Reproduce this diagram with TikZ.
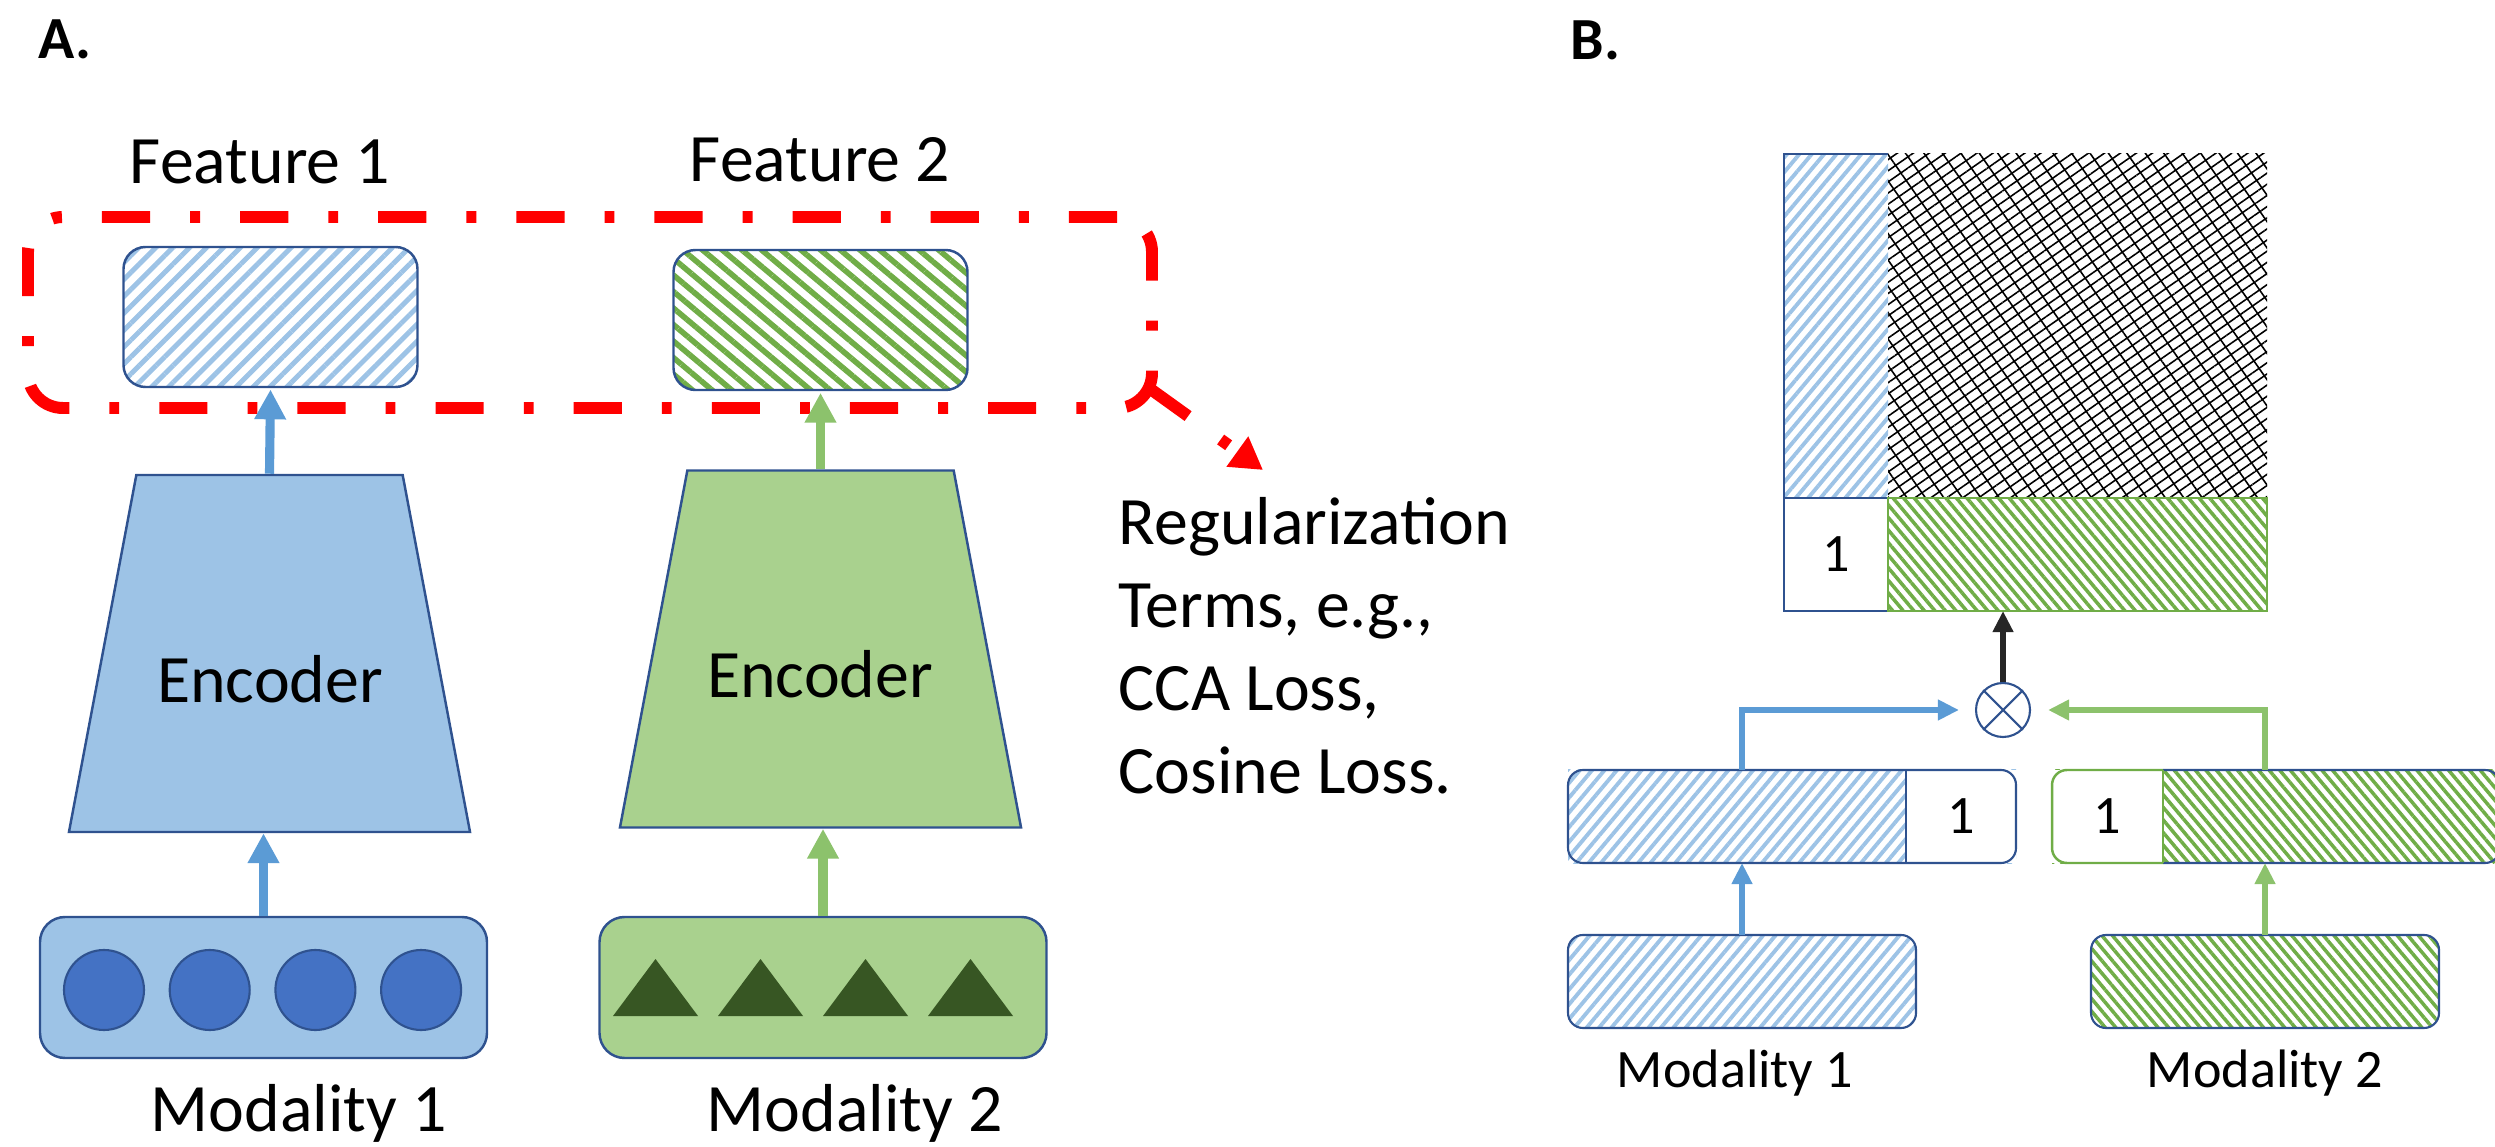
\documentclass[tikz,border=0pt]{standalone}
\usepackage{fontspec}
\setmainfont{Carlito}
\usetikzlibrary{arrows.meta,patterns.meta,shapes.geometric}
\definecolor{dkblue}{HTML}{2F528F}
\definecolor{lblue}{HTML}{9DC3E6}
\definecolor{ablue}{HTML}{5B9BD5}
\definecolor{lgreen}{HTML}{A9D18E}
\definecolor{hgreen}{HTML}{70AD47}
\definecolor{agreen}{HTML}{8CC26C}
\definecolor{dotblue}{HTML}{4472C4}
\definecolor{trigreen}{HTML}{375623}
\definecolor{regred}{HTML}{FF0000}
\definecolor{arrgray}{HTML}{262626}
\begin{document}
\begin{tikzpicture}[x=1cm,y=-1cm,
    testo/.style={font=\fontsize{19.3}{23.6}\selectfont,inner sep=0pt},
    testob/.style={font=\fontsize{15.4}{18}\selectfont,inner sep=0pt},
    pannello/.style={font=\fontsize{17}{20}\selectfont\bfseries,inner sep=0pt,anchor=base west},
    outl/.style={draw=dkblue,line width=0.7pt},
    outlB/.style={draw=dkblue,line width=0.6pt},
    cella/.style={inner sep=0pt,outer sep=0pt},
    feat/.style={outl,rounded corners=0.22cm,minimum width=2.94cm,minimum height=1.40cm,inner sep=0pt},
    modbox/.style={outl,rounded corners=0.25cm,minimum width=4.47cm,minimum height=1.41cm},
    enc/.style={trapezium,outl,trapezium left angle=75.8,trapezium right angle=75.8,
        trapezium stretches=true,minimum width=4.01cm,minimum height=3.57cm,inner sep=2pt},
    regbox/.style={draw=regred,line width=3.4pt,dash pattern=on 13.7pt off 11.4pt on 2.8pt off 11.4pt},
    frecciaA/.style={line width=2.6pt,-{Triangle[length=8.5pt,width=8.5pt]}},
    frecciaB/.style={line width=1.9pt,-{Triangle[length=6pt,width=5.6pt]}},
    bhatchA/.style={pattern={Lines[angle=45,distance=3.4pt,line width=1.4pt]},pattern color=lblue},
    ghatchA/.style={pattern={Lines[angle=-40,distance=3.6pt,line width=1.6pt]},pattern color=hgreen},
    bhatch/.style={pattern={Lines[angle=50,distance=2.7pt,line width=1.1pt]},pattern color=lblue},
    ghatch/.style={pattern={Lines[angle=-50,distance=2.3pt,line width=1pt]},pattern color=hgreen}]
    \useasboundingbox (0,0) rectangle (24.95,11.47);
    \clip (0,0) rectangle (24.95,11.47);
    %etichette pannelli
    \node[pannello] (lblA) at (0.38,0.59) {A.};
    \node[pannello] (lblB) at (15.70,0.60) {B.};
    %caratteristiche
    \node[testo,anchor=base] (tf1) at (2.60,1.84) {Feature 1};
    \node[testo,anchor=base] (tf2) at (8.20,1.82) {Feature 2};
    \node[feat,bhatchA] (feat1) at (2.705,3.17) {};
    \node[feat,ghatchA] (feat2) at (8.205,3.20) {};
    %riquadro regolarizzazione
    \node[regbox,rounded corners=0.35cm,outer sep=0pt,minimum width=11.24cm,minimum height=1.91cm] (reg) at (5.90,3.125) {};
    \coordinate (regtip) at (12.63,4.70);
    \draw[regbox,-{Triangle[length=9pt,width=10pt]}] ([shift={(-0.03,-0.20)}]reg.south east) -- (regtip);
    \node[testo,anchor=north west,align=left] (regtxt) at (11.18,4.97) {Regularization\\Terms, e.g.,\\CCA Loss,\\Cosine Loss.};
    %encoder
    \node[enc,fill=lblue] (enc1) at (2.695,6.535) {};
    \node[enc,fill=lgreen] (enc2) at (8.205,6.49) {};
    \node[testo,anchor=base] (te1) at (2.70,7.02) {Encoder};
    \node[testo,anchor=base] (te2) at (8.20,6.98) {Encoder};
    %modalita
    \node[modbox,fill=lblue] (mod1) at (2.635,9.875) {};
    \node[modbox,fill=lgreen] (mod2) at (8.23,9.875) {};
    \foreach \i in {0,...,3}
        \draw[dkblue,fill=dotblue,line width=0.6pt] (1.04+1.057*\i,9.90) circle (0.40);
    \foreach \i in {0,...,3}
        \fill[trigreen] (6.13+1.05*\i,10.16) --++ (0.85,0) --++ (-0.425,-0.57) -- cycle;
    \node[testo,anchor=base] (tm1) at (2.99,11.31) {Modality 1};
    \node[testo,anchor=base] (tm2) at (8.55,11.31) {Modality 2};
    %frecce A
    \draw[frecciaA,ablue] (enc1.north) -- (feat1.south);
    \draw[frecciaA,agreen] (enc2.north) -- (feat2.south);
    \draw[frecciaA,ablue] (mod1.north) -- (mod1.north |- enc1.south);
    \draw[frecciaA,agreen] (mod2.north) -- (mod2.north |- enc2.south);
    %matrice
    \node[cella,bhatch,minimum width=1.04cm,minimum height=3.44cm] (matblue) at (18.36,3.26) {};
    \draw[outlB] (matblue.south west) -- (matblue.north west) -- (matblue.north east);
    \node[cella,minimum width=3.79cm,minimum height=3.44cm,pattern={Lines[angle=35,distance=2.6pt,line width=0.45pt]}] (matmesh) at (20.775,3.26) {};
    \fill[pattern={Lines[angle=-55,distance=4.3pt,line width=0.45pt]}] (matmesh.south west) rectangle (matmesh.north east);
    \node[cella,outlB,fill=white,testob,minimum width=1.04cm,minimum height=1.13cm] (matone) at (18.36,5.545) {1};
    \node[cella,ghatch,draw=hgreen,line width=0.7pt,minimum width=3.79cm,minimum height=1.13cm] (matgreen) at (20.775,5.545) {};
    %prodotto
    \node[circle,draw=dkblue,line width=0.6pt,minimum size=0.54cm,inner sep=0pt] (prod) at (20.03,7.10) {};
    \draw[dkblue,line width=0.6pt] (prod.north west) -- (prod.south east) (prod.north east) -- (prod.south west);
    \draw[frecciaB,arrgray] (prod.north) -- (prod.north |- matgreen.south);
    %vettori con 1
    \node[cella,bhatch,minimum width=4.48cm,minimum height=0.93cm] (bar1) at (17.92,8.165) {};
    \node[cella,fill=white,testob,minimum width=1.10cm,minimum height=0.93cm] (bar1one) at (19.61,8.165) {1};
    \draw[outlB,rounded corners=0.15cm] (bar1.south west) rectangle (bar1.north east);
    \draw[outlB] (bar1one.north west) -- (bar1one.south west);
    \node[cella,ghatch,minimum width=4.48cm,minimum height=0.93cm] (bar2) at (22.76,8.165) {};
    \node[cella,fill=white,testob,minimum width=1.11cm,minimum height=0.93cm] (bar2one) at (21.075,8.165) {1};
    \draw[outlB,rounded corners=0.15cm] (bar2one.north east) -- (bar2.north east) -- (bar2.south east) -- (bar2one.south east);
    \draw[hgreen,line width=0.7pt,rounded corners=0.15cm] (bar2one.north east) -- (bar2one.north west) -- (bar2one.south west) -- (bar2one.south east);
    \draw[hgreen,line width=0.7pt] (bar2one.north east) -- (bar2one.south east);
    %modalita B
    \node[cella,outlB,bhatch,rounded corners=0.15cm,minimum width=3.48cm,minimum height=0.93cm] (bmod1) at (17.42,9.815) {};
    \node[cella,outlB,ghatch,rounded corners=0.15cm,minimum width=3.48cm,minimum height=0.93cm] (bmod2) at (22.65,9.815) {};
    \node[testob,anchor=base] (tbm1) at (17.35,10.87) {Modality 1};
    \node[testob,anchor=base] (tbm2) at (22.65,10.87) {Modality 2};
    %frecce B
    \draw[frecciaB,ablue] (bmod1.north) -- (bmod1.north |- bar1.south);
    \draw[frecciaB,agreen] (bmod2.north) -- (bmod2.north |- bar2.south);
    \draw[frecciaB,ablue,shorten >=0.16cm] (bmod1.north |- bar1.north) |- (prod.west);
    \draw[frecciaB,agreen,shorten >=0.17cm] (bmod2.north |- bar2.north) |- (prod.east);
\end{tikzpicture}
\end{document}
